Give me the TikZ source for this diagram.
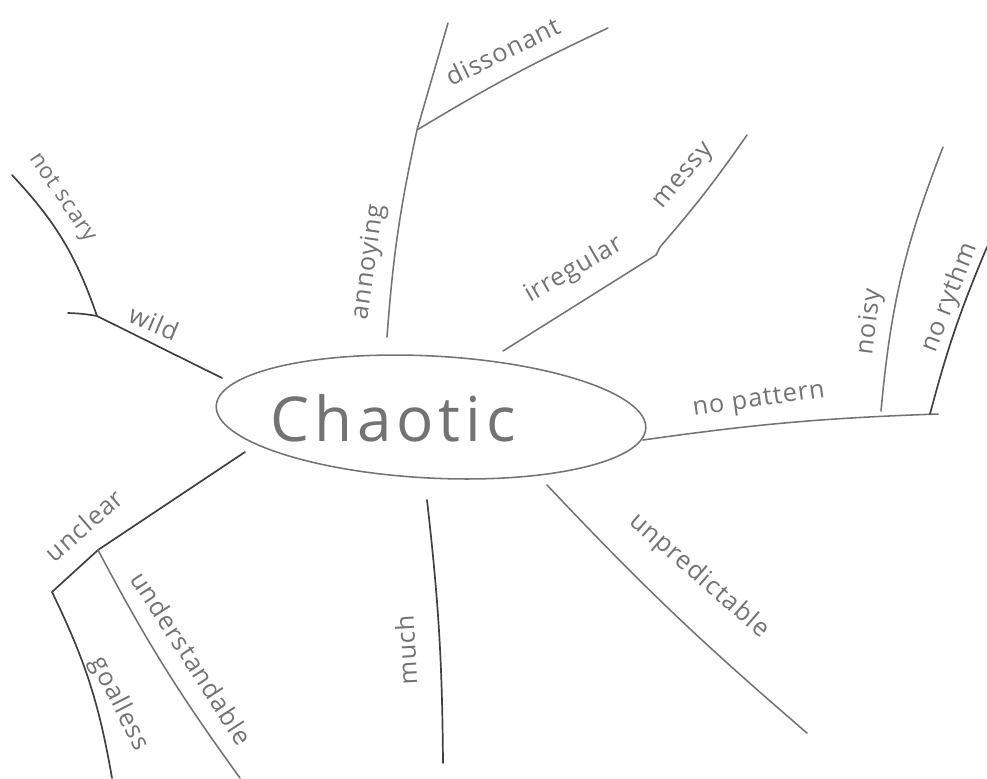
\documentclass[tikz,border=0pt]{standalone}
\usepackage{fontspec}
\setmainfont{Open Sans}[LetterSpace=4]
\usetikzlibrary{shapes.geometric}
\definecolor{pencil}{gray}{0.45}
\definecolor{darkpencil}{gray}{0.25}
\tikzset{
  branch/.style={draw=pencil, line width=1.1pt, line cap=round},
  darkbranch/.style={draw=darkpencil, line width=1.2pt, line cap=round},
  lbl/.style={text=pencil, font=\fontsize{18}{22}\selectfont, inner sep=0pt},
  smalllbl/.style={text=pencil, font=\fontsize{16}{18}\selectfont, inner sep=0pt},
}
\begin{document}
\begin{tikzpicture}[x=0.025cm, y=-0.025cm]
\useasboundingbox (0,0) rectangle (987,778);
% central ellipse
\node[ellipse, draw=pencil, line width=1.1pt, minimum width=10.75cm, minimum height=3.05cm, rotate=-3] (hub) at (431,417) {};
\node[text=pencil, font=\fontsize{44}{50}\selectfont\addfontfeatures{LetterSpace=8}] (title) at (393,418) {Chaotic};

% junction / end coordinates
\coordinate (wildA) at (222,378);
\coordinate (wildJ) at (97,316);
\coordinate (wildE) at (68,313);
\coordinate (scaryE) at (12,175);

\coordinate (annA) at (387,337);
\coordinate (annJ) at (417,130);
\coordinate (annE) at (448,23);
\coordinate (dissE) at (608,28);

\coordinate (irrA) at (503,351);
\coordinate (irrJ) at (656,255);
\coordinate (messE) at (747,135);

\coordinate (patA) at (643,440);
\coordinate (noisyJ) at (881,411);
\coordinate (rythJ) at (930,414);
\coordinate (patE) at (938,414);
\coordinate (noisyE) at (943,147);
\coordinate (rythE) at (987,247);

\coordinate (unpA) at (547,485);
\coordinate (unpE) at (807,733);

\coordinate (muchT) at (427,500);
\coordinate (muchB) at (443,763);

\coordinate (uncA) at (245,452);
\coordinate (uncJ) at (98,550);
\coordinate (uncB) at (52,592);
\coordinate (goalE) at (112,778);
\coordinate (undE) at (240,778);

% branches
\draw[darkbranch] (wildE) to[bend left=4] (wildJ) to (wildA);
\draw[darkbranch] (wildJ) to[bend right=12] (scaryE);

\draw[branch] (annA) to[bend left=4] (annJ) to (annE);
\draw[branch] (annJ) to[bend left=3] (dissE);

\draw[branch] (irrA) -- (irrJ) -- ++(4,-8) to[bend right=3] (messE);

\draw[branch] (patA) to[bend left=3] (patE);
\draw[branch] (noisyJ) to[bend left=8] (noisyE);
\draw[darkbranch] (rythJ) to[bend left=4] (rythE);

\draw[branch] (unpA) to[bend right=3] (unpE);

\draw[darkbranch] (muchT) to[bend left=3] (muchB);

\draw[darkbranch] (uncA) -- (uncJ) -- (uncB) to[bend left=8] (goalE);
\draw[branch] (uncJ) to[bend right=4] (undE);

% labels
\node[lbl, rotate=-23] (wild) at (154,323) {wild};
\node[smalllbl, rotate=-56] (scary) at (62,198) {not scary};
\node[lbl, rotate=82] (annoying) at (369,262) {annoying};
\node[lbl, rotate=26] (dissonant) at (503,51) {dissonant};
\node[lbl, rotate=30] (irregular) at (574,270) {irregular};
\node[lbl, rotate=50] (messy) at (685,177) {messy};
\node[lbl, rotate=8] (pattern) at (759,401) {no pattern};
\node[lbl, rotate=83] (noisy) at (870,322) {noisy};
\node[lbl, rotate=69] (rythm) at (950,298) {no rythm};
\node[lbl, rotate=-41] (unpred) at (699,576) {unpredictable};
\node[lbl, rotate=93] (much) at (406,650) {much};
\node[lbl, rotate=41] (unclear) at (84,525) {unclear};
\node[lbl, rotate=-57] (underst) at (192,658) {understandable};
\node[lbl, rotate=-63] (goalless) at (119,704) {goalless};
\end{tikzpicture}
\end{document}
